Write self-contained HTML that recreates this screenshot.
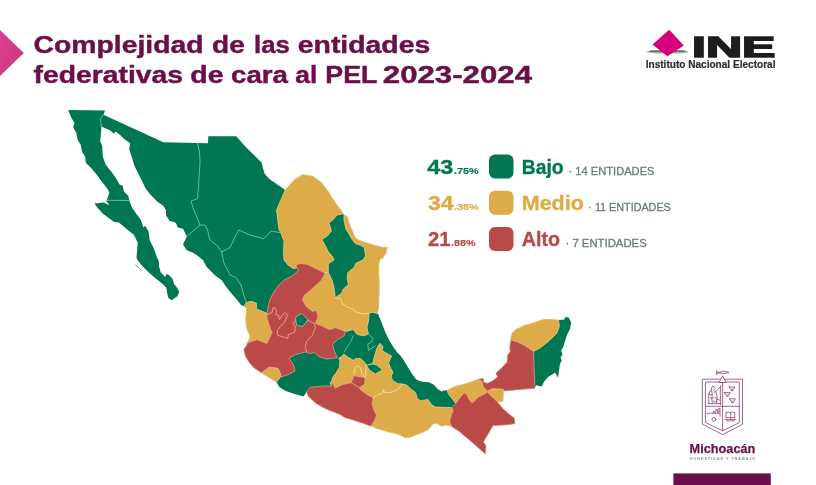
<!DOCTYPE html>
<html lang="es">
<head>
<meta charset="utf-8">
<title>Complejidad de las entidades federativas de cara al PEL 2023-2024</title>
<style>
html,body{margin:0;padding:0;background:#fff;}
body{width:816px;height:485px;position:relative;overflow:hidden;font-family:"Liberation Sans",sans-serif;}
svg{position:absolute;left:0;top:0;}
text{font-family:"Liberation Sans",sans-serif;}
.b{font-weight:bold;}
.ttl{font-weight:bold;font-size:24.2px;fill:#6a1049;stroke:#6a1049;stroke-width:0.45px;}
.big{font-weight:bold;font-size:19.5px;stroke-width:0.35px;}
.pct{font-weight:bold;font-size:8.6px;stroke-width:0.15px;}
.ent{font-size:11px;fill:#6b7b7b;stroke:#6b7b7b;stroke-width:0.3px;}
.g{fill:#007653;stroke:#007653}.y{fill:#ddab47;stroke:#ddab47}.r{fill:#b94a48;stroke:#b94a48}
</style>
</head>
<body>
<svg class="map" width="816" height="485" viewBox="0 0 816 485">
<polygon points="68.2,110 105,110.6 103.6,114.7 103.9,114.9 163.4,142.2 208,143.2 208.3,136.2 236.25,136.25 245,146.25 254,155 261.5,162.5 263,168 264.5,173.5 269,178.75 285.25,190 294,180 302.75,174.5 312.75,176.25 321.5,182.5 329,192.5 335.25,202.5 337,205 340.8,210 343.3,213.8 344,214.4 347.7,216.9 349,222.6 352.1,230.2 355.3,237.7 360.3,240.8 366.6,242.7 374.2,245.3 381.7,247.1 387.4,247.1 386.1,252.8 383,257.8 379.9,259.6 378.8,265 379.2,280.2 379.2,295.3 378.6,307.8 377.4,313.5 378.5,315 381.6,322.5 385.4,332.6 389.2,340.2 393,346.4 397,352.2 400.4,355.5 403.6,360 407.3,366.2 411.7,373.6 416.6,379.8 422.2,381.7 429,382.3 433.9,384.8 437.6,389.1 441.4,391.6 445.1,390.3 447.5,390.3 454.4,386.6 464.3,384.1 471.7,381.7 476.6,379.8 477.5,379.6 483.2,378.3 483.8,382.1 487.6,383.3 492.6,380.8 497.7,377 495.8,373.3 502.1,367.6 507.1,362 507.7,355 510.2,351.5 509.6,347.7 510.6,341 510.8,337 512.1,333.3 516.5,328.9 525.3,325.1 534.1,322.6 542.9,319.4 550.5,319.2 558.6,319.9 564.3,319.4 565.6,316.9 568.7,317.5 571.2,322.6 570,328.9 566.8,335.2 564.9,341.4 563,347.7 561.2,350 562.5,355 560.5,357 561.8,360.7 560,363.8 558,377.7 555,372.6 552.4,374.5 548,377 544.2,381.4 541.7,386.5 536,385.2 534.8,388.4 520.3,389.6 504.1,391 503.4,389.3 503,401.5 497.5,401.9 501.2,406.7 505.6,411.2 510.1,414.9 514.3,418.1 514.9,423.8 505.5,425 492.9,425.7 487.9,434.5 483.5,442 486,445.8 485.4,454 480.3,449.6 474,443.9 466.5,437.6 459,431.3 452,426.9 450.2,426.3 445.8,425 441.4,426.3 436.3,423.2 433.1,424 428,429.7 423,432.2 416.7,434.7 410.4,437.2 405.4,437.8 400.4,435.3 395.3,433.4 389,432.2 382.8,430.3 376.5,428.4 371.4,425.9 369.6,425.9 365.2,424 358.9,422.1 351.3,419.6 345,417.7 340,414.6 331,411 324,408 316,403.5 313.5,401 308.4,396.6 306.6,392.2 303.4,396.6 294.6,394.1 285.8,390.9 279.5,387.2 276.4,382.1 268.2,377.1 261.3,372.7 254.4,368.3 249.3,362.6 245.5,356.4 243.7,349.4 246.5,345.5 247.5,342.8 250,336.5 246.3,327.7 245.7,318.9 246.3,308.9 244.4,306.4 241,305 237,299.7 231.9,294 226.8,287.7 221.8,280.2 215.5,275.8 210.5,270.7 206.7,267 202.9,260 196.6,255 193.1,252.7 186.8,250.2 183,244.6 186.8,236.4 183,228.8 178,227.6 175.5,222.5 169.8,221 166,215.3 166,210.3 163.5,205.9 157.2,201.5 151,195.2 145.9,188.9 142.2,181.4 138.4,173.8 134.6,166.3 131.7,156.8 129.2,149.3 130.2,143.2 124.4,139.2 120.4,135.2 116,131.8 113.5,133.4 110.3,130.6 101.5,126.6 100.9,134.2 100.3,141.7 102.1,145.5 102.8,156.8 105.9,165 106.9,166.3 112,172.6 116.4,178.9 119.5,184.5 122.7,185.8 123.9,191.4 128.3,195.8 129.6,201.5 132.1,207.8 136.5,214.1 140.9,220 143.4,227.6 145.3,225.7 148.5,231.4 149.7,240.2 154.1,249 156.6,256.5 158.9,261.3 158.9,266.3 160.8,272.6 165.2,277 166.4,273.9 169,275.1 172.7,278.9 174,283.9 177.1,287.7 179.3,292.1 177.1,296.5 171.5,300.3 168.3,297.8 167.1,292.7 166.4,287.7 162.7,283.9 156.4,278.9 148.8,272.6 142.5,266.3 137.5,260 136.5,257.8 137.1,250.2 137.8,242.7 134,235.1 126.4,228.8 118.9,222.5 113.9,221.9 108.8,217.9 103.2,214.1 98.1,208.4 94.4,203.4 103.5,202.4 109.5,205.3 107.5,202.5 106.3,201.5 107.6,197.7 109.4,192.7 107.6,188.9 102.5,182.6 96.9,175.1 91.8,168.8 86.8,163.8 85.8,162.5 85.2,156.8 82,151.8 80.8,144.9 77.6,139.8 76.4,132.9 73.2,127.3 74.5,122.9 71.3,117.8" fill="#007653" />
<polygon points="285.25,190 294,180 302.75,174.5 312.75,176.25 321.5,182.5 329,192.5 335.25,202.5 337,205 340.8,210 343.3,213.8 343.3,213.8 337,215 333.9,218.8 328.9,223.2 330.1,226.4 331.4,230.8 327.6,235.8 321.9,239.6 325.1,245.3 328.2,251.5 333.3,257.8 334,260 328.3,263.8 328.3,272.6 325.2,273.2 326,277 316,271 307.5,267 300,266 296,268 293.75,268.75 288,265 284,260 283.5,253 284,241 280,231 279,230 276.5,210 285.25,190" fill="#ddab47" stroke="#f4d791" stroke-opacity="0.9" stroke-width="0.8" stroke-linejoin="round" stroke-linecap="round"/>
<polygon points="344,214.4 347.7,216.9 349,222.6 352.1,230.2 355.3,237.7 360.3,240.8 366.6,242.7 374.2,245.3 381.7,247.1 387.4,247.1 386.1,252.8 383,257.8 379.9,259.6 378.8,265 379.2,280.2 379.2,295.3 378.6,307.8 377.4,313.5 372.3,312.2 368.6,313.5 369,315 368.4,321.3 367,327.6 368.4,333.9 364,335.8 357,334.5 353.3,329.5 346.4,331.4 336.4,330 327.5,330 320,327 314,324 313,320 310,313 303,306 300,298 308,290 318,282 323,275 325.2,273.2 328.3,272.6 332.1,280.2 334,287.7 335.2,297.8 341.5,293.4 343.4,289 348.4,284.6 347.2,278.9 347.8,272.6 354.1,267.6 356,263.2 362.9,260 365.4,256.3 365.3,254.1 364.1,247.1 360.3,245.3 355.3,243.4 352.1,239.6 349,233.9 345.8,228.9 344,220.1 344,214.4" fill="#ddab47" stroke="#f4d791" stroke-opacity="0.9" stroke-width="0.8" stroke-linejoin="round" stroke-linecap="round"/>
<polygon points="246.3,302.6 251.3,301.3 256.4,303.2 256.4,308.9 267,313.3 268,317.7 270.6,326.5 273.1,332.8 268,344.5 257,340.5 247.5,342.8 250,336.5 246.3,327.7 245.7,318.9 246.3,308.9 244.4,306.4" fill="#ddab47" stroke="#f4d791" stroke-opacity="0.9" stroke-width="0.8" stroke-linejoin="round" stroke-linecap="round"/>
<polygon points="261.3,372.7 269.4,367 278.3,368.3 280.8,374 280.1,377.7 276.4,382.1 268.2,377.1 261.3,372.7" fill="#ddab47" stroke="#f4d791" stroke-opacity="0.9" stroke-width="0.8" stroke-linejoin="round" stroke-linecap="round"/>
<polygon points="338.9,359 343.9,354 347,356.5 353.3,360.3 355.8,358.4 360.3,358.4 364.7,362.2 366.5,365.3 372.8,363.4 374.7,355.3 376.6,349 379.7,343.3 382.9,346.4 382.3,350.8 387.9,354 391.7,355.9 388.6,362.8 390.4,367.8 393,372.2 391.2,376.1 392.5,380.4 397.4,383.5 402.4,384.1 406.7,385 411,389.2 415.5,392.5 417.4,398.8 420.5,400.7 428,399.5 431.8,405.1 435.6,407 451.9,407.6 455,410 453,419 453,426.9 450.2,426.3 445.8,425 441.4,426.3 436.3,423.2 433.1,424 428,429.7 423,432.2 416.7,434.7 410.4,437.2 405.4,437.8 400.4,435.3 395.3,433.4 389,432.2 382.8,430.3 376.5,428.4 371.4,425.9 369.6,425.9 368,416 366,408.75 365,400 360,395 352,390 342.5,387 332.5,389 330,382.5 331.7,381.5 332.5,377.5 336.3,372.6 339.4,367.6 340,357.5" fill="#ddab47" stroke="#f4d791" stroke-opacity="0.9" stroke-width="0.8" stroke-linejoin="round" stroke-linecap="round"/>
<polygon points="447.5,390.3 454.4,386.6 464.3,384.1 471.7,381.7 476.6,379.8 477.5,379.6 482,381.4 483.2,386.5 487.4,391.1 493,388.5 503.4,389.3 503,401.5 497.5,401.9 492,398 487.4,393.5 484.8,395 477.4,399.5 473,404 470,402 466,397 460,403 455.6,403.3 451.9,398.4 448.8,394.7" fill="#ddab47" stroke="#f4d791" stroke-opacity="0.9" stroke-width="0.8" stroke-linejoin="round" stroke-linecap="round"/>
<polygon points="510.8,337 512.1,333.3 516.5,328.9 525.3,325.1 534.1,322.6 542.9,319.4 550.5,319.2 558.6,319.9 559.3,326.4 556.8,333.3 549.2,340.8 540.4,347.7 533.5,351.5 525.3,345.8 517.8,342.1 511.5,340.2" fill="#ddab47" stroke="#f4d791" stroke-opacity="0.9" stroke-width="0.8" stroke-linejoin="round" stroke-linecap="round"/>
<polygon points="296,265 300,263.2 307.5,264.4 315.1,268.2 325.2,273.2 321.4,280.2 312.6,288.3 303.8,295.9 302.5,300.3 306.3,306.6 312.6,311.6 316.4,310.3 318,317 315.5,323.3 323,326.5 329.9,329.6 335.6,327.7 345.5,331.4 344,335.8 337.6,339.5 332.6,344.6 334.5,351.5 336.4,355.5 337.4,357.6 333.6,358.2 326,358.9 318.5,356.4 314.7,352.6 309.7,353.8 305.9,351.9 295.9,354.5 288.9,358.2 293.3,364.5 295.2,370.8 288.3,374.6 280.8,377.1 280.8,374 278.3,368.3 269.4,367 261.3,372.7 254.4,368.3 249.3,362.6 245.5,356.4 243.7,349.4 246.5,345.5 247.5,342.8 257,339.7 267,343.5 272.1,332.8 269.6,326.5 267,317.7 267,313.3 268.3,305.1 270.8,297.5 275.2,290 279,285 285,279.5 292,276 298,271" fill="#b94a48" stroke="#f0a798" stroke-opacity="0.85" stroke-width="0.8" stroke-linejoin="round" stroke-linecap="round"/>
<polygon points="306.6,392.2 310.3,387.2 318.5,386.5 326,385.9 331.1,386.5 331.7,381.5 335,388.3 342.5,384.6 351.4,382.7 353.9,375.8 365.2,377.6 364.6,383.9 359.5,387.7 362,390.8 367.7,395.1 373.3,397.6 372.1,403.9 374,410.2 376.5,415.2 374.6,420.2 371.4,425.9 369.6,425.9 365.2,424 358.9,422.1 351.3,419.6 345,417.7 340,414.6 331,411 324,408 316,403.5 313.5,401 308.4,396.6 306.6,392.2" fill="#b94a48" stroke="#f0a798" stroke-opacity="0.85" stroke-width="0.8" stroke-linejoin="round" stroke-linecap="round"/>
<polygon points="451.9,407.6 455.6,403.6 459.3,398.6 463,394 466.1,393.4 469.2,399.6 471.7,402.7 473,402.6 477.4,397.8 484.8,393.7 487.4,392.2 497.5,401.9 501.2,406.7 505.6,411.2 510.1,414.9 514.3,418.1 514.9,423.8 505.5,425 492.9,425.7 487.9,434.5 483.5,442 486,445.8 485.4,454 480.3,449.6 474,443.9 466.5,437.6 459,431.3 452,426.9 449.5,421.9 450.2,418.8 453,410.6" fill="#b94a48" stroke="#f0a798" stroke-opacity="0.85" stroke-width="0.8" stroke-linejoin="round" stroke-linecap="round"/>
<polygon points="477.5,379.6 483.2,378.3 483.8,382.1 487.6,383.3 492.6,380.8 497.7,377 495.8,373.3 502.1,367.6 507.1,362 507.7,355 510.2,351.5 509.6,347.7 510.6,341 511.5,340.2 517.8,342.1 525.3,345.8 533.5,351.5 534.2,370 534.8,385.2 534.8,388.4 520.3,389.6 504.1,391 503.4,389.3 493,388.5 487.4,391.1 483.2,386.5 482,381.4" fill="#b94a48" stroke="#f0a798" stroke-opacity="0.85" stroke-width="0.8" stroke-linejoin="round" stroke-linecap="round"/>
<polygon points="296,317 301.6,313.3 307.9,319.6 302.9,326.5 296.6,325.2 295.8,320.5" fill="#007653" stroke="#bfe3c0" stroke-opacity="0.8" stroke-width="0.8" stroke-linejoin="round" stroke-linecap="round"/>
<polygon points="366.5,365.3 372.7,364 377.1,365.1 382.2,370.1 375.3,373.9 369.6,370.1" fill="#007653" stroke="#bfe3c0" stroke-opacity="0.8" stroke-width="0.8" stroke-linejoin="round" stroke-linecap="round"/>
<polyline points="106.3,201.5 107,200.3 129.4,200.5" fill="none" stroke="#63cfa8" stroke-opacity="0.9" stroke-width="0.95" stroke-linejoin="round" stroke-linecap="round"/>
<polyline points="197.5,143.2 199.5,152 200,162.5 198.75,182.5 197.5,198.75 191,201 193.75,210 196,215 200,225" fill="none" stroke="#63cfa8" stroke-opacity="0.9" stroke-width="0.95" stroke-linejoin="round" stroke-linecap="round"/>
<polyline points="200,225 186.8,236.4" fill="none" stroke="#63cfa8" stroke-opacity="0.9" stroke-width="0.95" stroke-linejoin="round" stroke-linecap="round"/>
<polyline points="200,225 205,225 207.5,230 210,240 217.5,246 221.75,252" fill="none" stroke="#63cfa8" stroke-opacity="0.9" stroke-width="0.95" stroke-linejoin="round" stroke-linecap="round"/>
<polyline points="221.75,252 223.75,262.5 230,275 236,277.5 241,285 243.75,295 246.3,302.6" fill="none" stroke="#63cfa8" stroke-opacity="0.9" stroke-width="0.95" stroke-linejoin="round" stroke-linecap="round"/>
<polyline points="221.75,252 230,247.5 236,235 238.75,230 250,235 263.75,238.75 271,231 280,232.5" fill="none" stroke="#63cfa8" stroke-opacity="0.9" stroke-width="0.95" stroke-linejoin="round" stroke-linecap="round"/>
<polyline points="101.5,126.6 100.3,119.1 103.4,114.7" fill="none" stroke="#63cfa8" stroke-opacity="0.9" stroke-width="0.95" stroke-linejoin="round" stroke-linecap="round"/>
<polyline points="335.2,297.8 340.3,298.4 342.1,303.4 347.2,307.2 352.8,309.1 356.6,312.2 362.9,314.1 368.6,313.5" fill="none" stroke="#f7e2a6" stroke-opacity="0.9" stroke-width="0.95" stroke-linejoin="round" stroke-linecap="round"/>
<polyline points="353.3,335.8 350.2,342.7 345.8,349 344.5,352" fill="none" stroke="#63cfa8" stroke-opacity="0.9" stroke-width="0.95" stroke-linejoin="round" stroke-linecap="round"/>
<polyline points="368.4,333.9 372.8,338.3 371.6,342 367.8,343.9 368.4,350.2 375.3,345.8" fill="none" stroke="#63cfa8" stroke-opacity="0.9" stroke-width="0.95" stroke-linejoin="round" stroke-linecap="round"/>
<polyline points="366.5,365.3 365.8,368.2 366,377" fill="none" stroke="#f7e2a6" stroke-opacity="0.9" stroke-width="0.95" stroke-linejoin="round" stroke-linecap="round"/>
<polyline points="372.7,398.4 376.5,395.3 382.2,393.4 383.4,389.6 384.7,392.7 390.3,392.7 397.9,389.6 402.4,384.1" fill="none" stroke="#f7e2a6" stroke-opacity="0.9" stroke-width="0.95" stroke-linejoin="round" stroke-linecap="round"/>
<polyline points="353.9,374.5 355.1,367.6 357.6,365.7 360.8,368.2 362,373.9 365.2,377.6" fill="none" stroke="#f7e2a6" stroke-opacity="0.9" stroke-width="0.95" stroke-linejoin="round" stroke-linecap="round"/>
<polyline points="351.4,382.7 355.1,385.2 359.5,387.7 362,390.8" fill="none" stroke="#f6a79d" stroke-opacity="0.9" stroke-width="0.95" stroke-linejoin="round" stroke-linecap="round"/>
<polyline points="267,314.5 272.1,312.6 272.7,308.2 274.6,307.6 276.5,310.8 275.8,314.5 278.4,315.2 279.6,319.6 281.5,316.4 284.7,312.6 287.8,315.2 284,322.7 280.3,326.5 277.1,330.9 277.7,335.3 287.8,338.4 288.4,334.7 294.7,332.1 295.3,326.5 292.8,323.3 295.3,320.8" fill="none" stroke="#f6a79d" stroke-opacity="0.95" stroke-width="0.9" stroke-linejoin="round" stroke-linecap="round"/>
<polyline points="307.9,320.2 314.2,323.3 315.5,327.7 312.3,335.3 306.7,341.6 305.4,346.6 306.7,352" fill="none" stroke="#f6a79d" stroke-opacity="0.95" stroke-width="0.9" stroke-linejoin="round" stroke-linecap="round"/>
<polyline points="135.3,264.7 141.5,270.3" fill="none" stroke="#007653" stroke-width="0.6"/>
</svg>
<svg width="816" height="485" viewBox="0 0 816 485">
  <defs>
    <linearGradient id="ag" x1="0" y1="0" x2="1" y2="1">
      <stop offset="0" stop-color="#e0408f"/><stop offset="1" stop-color="#c8367f"/>
    </linearGradient>
  </defs>
  <!-- title -->
  <polygon points="0,30 23.8,52.9 0,76" fill="url(#ag)"/>
  <text class="ttl" id="a0" x="33.50" y="52.9" textLength="170.00" lengthAdjust="spacingAndGlyphs">Complejidad</text>
  <text class="ttl" id="a1" x="212.00" y="52.9" textLength="32.75" lengthAdjust="spacingAndGlyphs">de</text>
  <text class="ttl" id="a2" x="254.00" y="52.9" textLength="35.75" lengthAdjust="spacingAndGlyphs">las</text>
  <text class="ttl" id="a3" x="297.75" y="52.9" textLength="132.55" lengthAdjust="spacingAndGlyphs">entidades</text>
  <text class="ttl" id="b0" x="33.50" y="82.5" textLength="149.50" lengthAdjust="spacingAndGlyphs">federativas</text>
  <text class="ttl" id="b1" x="190.30" y="82.5" textLength="33.20" lengthAdjust="spacingAndGlyphs">de</text>
  <text class="ttl" id="b2" x="231.00" y="82.5" textLength="57.00" lengthAdjust="spacingAndGlyphs">cara</text>
  <text class="ttl" id="b3" x="295.30" y="82.5" textLength="22.00" lengthAdjust="spacingAndGlyphs">al</text>
  <text class="ttl" id="b4" x="325.30" y="82.5" textLength="52.00" lengthAdjust="spacingAndGlyphs">PEL</text>
  <text class="ttl" id="b5" x="382.80" y="82.5" textLength="149.20" lengthAdjust="spacingAndGlyphs">2023-2024</text>

  <!-- INE logo -->
  <ellipse cx="667.5" cy="51.8" rx="21" ry="1.7" fill="#a3a3a3"/>
  <rect x="650" y="50.6" width="35" height="0.9" fill="#3a3a3a"/>
  <polygon points="669.2,29.8 683.9,45.5 667.3,56.3 652.5,44.5" fill="#d6007f"/>
  <text id="ine" x="692" y="56.6" class="b" font-size="30.4" fill="#1d1d1b" stroke="#1d1d1b" stroke-width="1.6" textLength="83.4" lengthAdjust="spacingAndGlyphs">INE</text>
  <text id="inesub" x="645.7" y="68.3" class="b" font-size="10" fill="#2e2e2e" stroke="#2e2e2e" stroke-width="0.2" textLength="129.8" lengthAdjust="spacingAndGlyphs">Instituto Nacional Electoral</text>

  <!-- legend -->
  <rect x="489" y="154.5" width="24.5" height="24" rx="6" fill="#007653"/>
  <rect x="489" y="190.7" width="24.5" height="24" rx="6" fill="#ddab47"/>
  <rect x="489" y="227" width="24.5" height="24" rx="6" fill="#b94a48"/>

  <text class="big g" x="427.3" y="173.7" textLength="26" lengthAdjust="spacingAndGlyphs">43</text>
  <text class="pct g" x="454" y="173.7" textLength="24.7" lengthAdjust="spacingAndGlyphs">.75%</text>
  <text class="big g" id="l1" x="521.8" y="173.7" textLength="41.7" lengthAdjust="spacingAndGlyphs">Bajo</text>
  <text class="ent" x="568.5" y="174.5" textLength="86" lengthAdjust="spacingAndGlyphs">· 14 ENTIDADES</text>

  <text class="big y" x="428" y="210" textLength="25.5" lengthAdjust="spacingAndGlyphs">34</text>
  <text class="pct y" x="454" y="210" textLength="24.7" lengthAdjust="spacingAndGlyphs">.38%</text>
  <text class="big y" id="l2" x="521.8" y="210" textLength="62" lengthAdjust="spacingAndGlyphs">Medio</text>
  <text class="ent" x="588.3" y="210.8" textLength="82.5" lengthAdjust="spacingAndGlyphs">· 11 ENTIDADES</text>

  <text class="big r" x="428" y="246.3" textLength="22.5" lengthAdjust="spacingAndGlyphs">21</text>
  <text class="pct r" x="451" y="246.3" textLength="24.7" lengthAdjust="spacingAndGlyphs">.88%</text>
  <text class="big r" id="l3" x="521.8" y="246.3" textLength="38.3" lengthAdjust="spacingAndGlyphs">Alto</text>
  <text class="ent" x="565.5" y="247.1" textLength="81.2" lengthAdjust="spacingAndGlyphs">· 7 ENTIDADES</text>

  <!-- Michoacan shield -->
  <g fill="none" stroke="#7d2560" stroke-width="0.7" stroke-linejoin="round" stroke-linecap="round">
    <path d="M702.7,379.2 H742.5 V424.3 L722.6,434.6 L702.7,424.3 Z"/>
    <path d="M705.8,382 H739.3 V422.6 L722.6,430.8 L705.8,422.6 Z"/>
    <path d="M722.6,382 V430.6"/>
    <path d="M705.8,406.3 H739.3"/>
    <path d="M719.3,382.2 L722.6,375.8 L725.9,382.2 Z" fill="#fff"/>
    <path d="M718.4,372.6 Q723,369.8 729,372.4 Q723,375.2 718.4,372.6 Z M718.4,372.6 L716.4,370.8 V374.4 Z"/>
    <path d="M729.2,387 h5.8 q-0.6,2.6 -2.9,2.6 q-2.3,0 -2.9,-2.6 Z M731,390.6 h2.2"/>
    <path d="M724.5,392.6 h5.8 q-0.6,2.6 -2.9,2.6 q-2.3,0 -2.9,-2.6 Z M726.3,396.2 h2.2"/>
    <path d="M729.6,398.8 h5.8 q-0.6,2.6 -2.9,2.6 q-2.3,0 -2.9,-2.6 Z M731.4,402.4 h2.2"/>
    <path d="M712.5,386.5 q2.2,-0.6 2.6,1.8 q0.2,1.6 -1,2.4 q2.6,1.6 3,5 q0.3,3.4 -0.6,6 M712.5,386.5 q-1.6,0.8 -1.2,3 q-2.2,2.4 -2.6,6.2 q-0.3,3.4 0.3,7.6 M708.8,394 l3.4,1 M710.2,398 q2,1.2 3.8,-0.4 M711.4,390.5 q1.4,3 0.6,6 q-0.6,3.4 0.4,6.6 M714.4,393 l6.4,-6.4 M720.4,385.8 v19 M708.2,403.6 h12.6 M715,397.5 q2,2.6 4.6,2.6 M713.2,401 q1.8,1.4 4,1.2"/>
    <path d="M707,413.6 h2.2 l1,-1.2 l1,1.2 h2 v-2.2 h1.4 v2.2 h1.2 v-4 h1.6 v4 h1.4 v-5.4 h1.2 v8"/>
    <circle cx="713.9" cy="419.3" r="1.9"/>
    <path d="M730.4,412.6 q-2.2,-1.2 -4.4,0 v5.4 q2.2,-1.2 4.4,0 Z M730.4,412.6 q2.2,-1.2 4.4,0 v5.4 q-2.2,-1.2 -4.4,0 M725.2,419.4 h10.4 M726.4,420.8 h8"/>
  </g>
  <text id="mich" x="689.6" y="452.8" class="b" font-size="12.6" fill="#6a1049" stroke="#6a1049" stroke-width="0.25" textLength="65.8" lengthAdjust="spacingAndGlyphs">Michoacán</text>
  <text id="hon" x="689.8" y="460.2" class="b" font-size="3.8" fill="#8d9292" textLength="65.4" lengthAdjust="spacing">HONESTIDAD Y TRABAJO</text>
  <rect x="673.4" y="473.4" width="97.4" height="11.6" fill="#6a0f4c"/>
</svg>
</body>
</html>
